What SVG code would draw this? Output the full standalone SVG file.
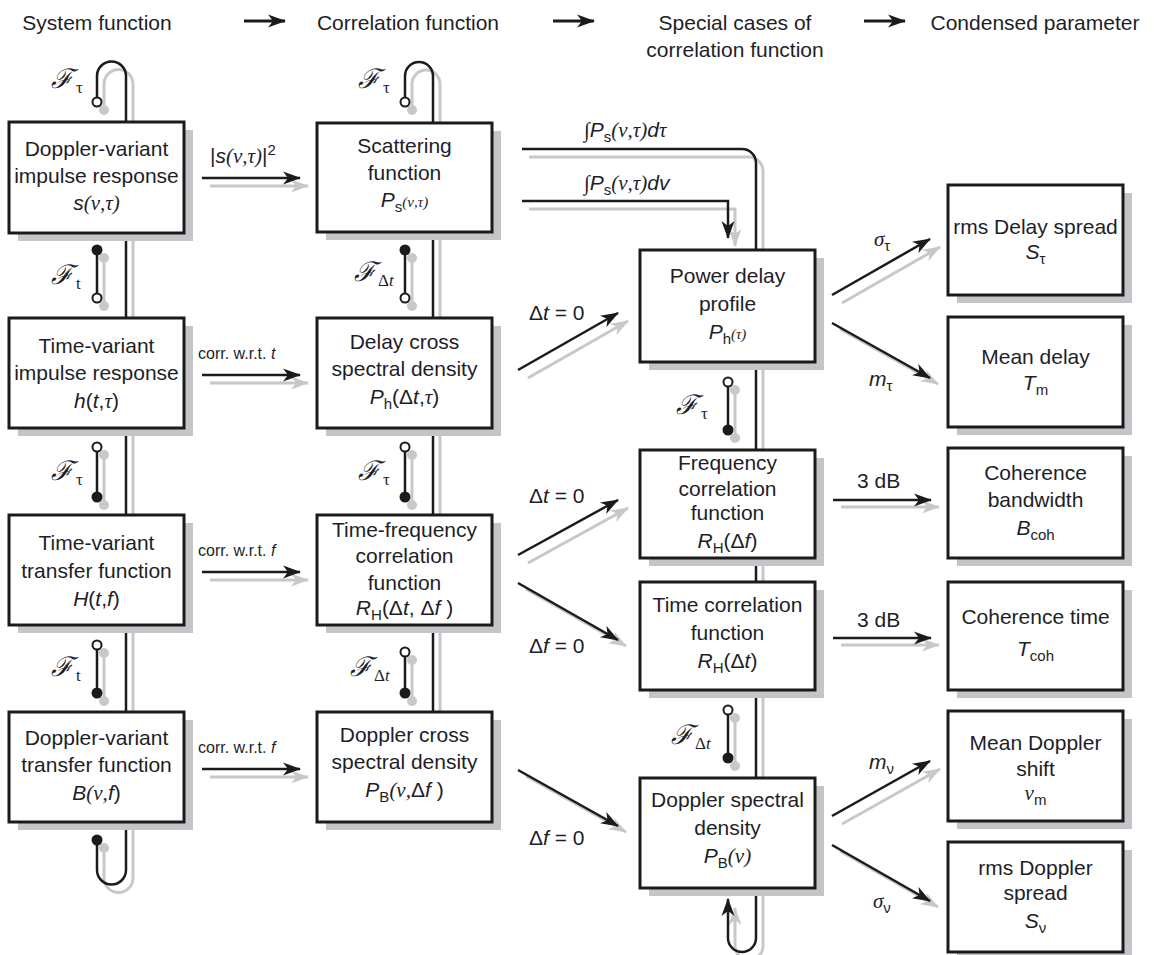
<svg xmlns="http://www.w3.org/2000/svg" width="1154" height="955" viewBox="0 0 1154 955">
<defs>
<style>
.box{fill:#fff;stroke:#1b1b1b;stroke-width:3}
.shd{fill:#c5c5c9}
.t{font-family:"Liberation Sans",Arial,sans-serif;font-size:21px;fill:#1e1e28;text-anchor:middle}
.lbl{font-family:"Liberation Sans",Arial,sans-serif;font-size:21px;fill:#1e1e28}
.sm{font-size:16px}
.i{font-style:italic}
.g{font-family:"Liberation Serif","Times New Roman",serif;font-style:italic}
.sub{font-size:15px}
.ln{stroke:#1b1b1b;stroke-width:2.5;fill:none}
.gl{stroke:#c8c8cc;stroke-width:3;fill:none}
.oc{fill:#fff;stroke:#1b1b1b;stroke-width:2}
.fc{fill:#1b1b1b}
.gc{fill:#c8c8cc}
.F{font-family:"DejaVu Serif",serif;font-style:italic;font-size:27px;fill:#1e1e28}
.Fs{font-family:"Liberation Serif",serif;font-style:normal;font-size:17px}
</style>
<marker id="ah" viewBox="0 0 18 14" refX="17" refY="7" markerWidth="18" markerHeight="14" orient="auto" markerUnits="userSpaceOnUse"><path d="M0,0.5 L18,7 L0,13.5 L5,7 z" fill="#1b1b1b"/></marker>
<marker id="ahg" viewBox="0 0 18 14" refX="17" refY="7" markerWidth="18" markerHeight="14" orient="auto" markerUnits="userSpaceOnUse"><path d="M0,0.5 L18,7 L0,13.5 L5,7 z" fill="#c8c8cc"/></marker>
</defs>

<!-- header -->
<g id="header">
<text class="t" x="97" y="30">System function</text>
<text class="t" x="408" y="30">Correlation function</text>
<text class="t" x="735" y="30">Special cases of</text>
<text class="t" x="735" y="57">correlation function</text>
<text class="t" x="1035" y="30">Condensed parameter</text>
<line x1="244" y1="21" x2="285" y2="21" stroke="#1b1b1b" stroke-width="3.2" marker-end="url(#ah)"/>
<line x1="553" y1="21" x2="594" y2="21" stroke="#1b1b1b" stroke-width="3.2" marker-end="url(#ah)"/>
<line x1="864" y1="21" x2="905" y2="21" stroke="#1b1b1b" stroke-width="3.2" marker-end="url(#ah)"/>
</g>

<!-- connectors -->
<g id="connectors">
<g transform="translate(7,8)">
<path class="gl" d="M97,97.5 V76 A14.5,14.5 0 0 1 126,76 V870 A14.5,14.5 0 0 1 97,870 V845"/>
<path class="gl" d="M405,97.5 V76 A14,14 0 0 1 433,76 V760"/>
<path class="gl" d="M522,149 H742 A14,14 0 0 1 756,163 V938 A14,14 0 0 1 728,938 V900" marker-end="url(#ahg)"/>
<path class="gl" d="M522,201 H728 V238" marker-end="url(#ahg)"/>
<line class="gl" x1="97" y1="250" x2="97" y2="298"/>
<line class="gl" x1="97" y1="447" x2="97" y2="497"/>
<line class="gl" x1="97" y1="645" x2="97" y2="693"/>
<line class="gl" x1="405" y1="250" x2="405" y2="298"/>
<line class="gl" x1="405" y1="447" x2="405" y2="497"/>
<line class="gl" x1="405" y1="652" x2="405" y2="693"/>
<line class="gl" x1="728" y1="382" x2="728" y2="430"/>
<line class="gl" x1="728" y1="710" x2="728" y2="758"/>
<g class="gc">
<circle cx="97" cy="102" r="5"/><circle cx="97" cy="250" r="5"/><circle cx="97" cy="298" r="5"/><circle cx="97" cy="447" r="5"/><circle cx="97" cy="497" r="5"/><circle cx="97" cy="645" r="5"/><circle cx="97" cy="693" r="5"/><circle cx="97" cy="840" r="5"/>
<circle cx="405" cy="102" r="5"/><circle cx="405" cy="250" r="5"/><circle cx="405" cy="298" r="5"/><circle cx="405" cy="447" r="5"/><circle cx="405" cy="497" r="5"/><circle cx="405" cy="652" r="5"/><circle cx="405" cy="693" r="5"/>
<circle cx="728" cy="382" r="5"/><circle cx="728" cy="430" r="5"/><circle cx="728" cy="710" r="5"/><circle cx="728" cy="758" r="5"/>
</g>
</g>
<path class="ln" d="M97,97.5 V76 A14.5,14.5 0 0 1 126,76 V870 A14.5,14.5 0 0 1 97,870 V845"/>
<path class="ln" d="M405,97.5 V76 A14,14 0 0 1 433,76 V760"/>
<path class="ln" d="M522,149 H742 A14,14 0 0 1 756,163 V938 A14,14 0 0 1 728,938 V899" marker-end="url(#ah)"/>
<path class="ln" d="M522,201 H728 V238" marker-end="url(#ah)"/>
<line class="ln" x1="97" y1="250" x2="97" y2="293"/>
<line class="ln" x1="97" y1="452" x2="97" y2="497"/>
<line class="ln" x1="97" y1="650" x2="97" y2="693"/>
<line class="ln" x1="405" y1="250" x2="405" y2="293"/>
<line class="ln" x1="405" y1="452" x2="405" y2="497"/>
<line class="ln" x1="405" y1="657" x2="405" y2="693"/>
<line class="ln" x1="728" y1="387" x2="728" y2="430"/>
<line class="ln" x1="728" y1="715" x2="728" y2="758"/>
<circle class="oc" cx="97" cy="102" r="4.5"/><circle class="fc" cx="97" cy="250" r="5.5"/><circle class="oc" cx="97" cy="298" r="4.5"/><circle class="oc" cx="97" cy="447" r="4.5"/><circle class="fc" cx="97" cy="497" r="5.5"/><circle class="oc" cx="97" cy="645" r="4.5"/><circle class="fc" cx="97" cy="693" r="5.5"/><circle class="fc" cx="97" cy="840" r="5.5"/>
<circle class="oc" cx="405" cy="102" r="4.5"/><circle class="fc" cx="405" cy="250" r="5.5"/><circle class="oc" cx="405" cy="298" r="4.5"/><circle class="oc" cx="405" cy="447" r="4.5"/><circle class="fc" cx="405" cy="497" r="5.5"/><circle class="oc" cx="405" cy="652" r="4.5"/><circle class="fc" cx="405" cy="693" r="5.5"/>
<circle class="oc" cx="728" cy="382" r="4.5"/><circle class="fc" cx="728" cy="430" r="5.5"/><circle class="oc" cx="728" cy="710" r="4.5"/><circle class="fc" cx="728" cy="758" r="5.5"/>

<g>
<line class="gl" x1="210" y1="186" x2="308" y2="186" marker-end="url(#ahg)"/>
<line class="ln" x1="202" y1="178" x2="300" y2="178" marker-end="url(#ah)"/>
<line class="gl" x1="210" y1="383" x2="308" y2="383" marker-end="url(#ahg)"/>
<line class="ln" x1="202" y1="375" x2="300" y2="375" marker-end="url(#ah)"/>
<line class="gl" x1="210" y1="580" x2="308" y2="580" marker-end="url(#ahg)"/>
<line class="ln" x1="202" y1="572" x2="300" y2="572" marker-end="url(#ah)"/>
<line class="gl" x1="210" y1="777" x2="308" y2="777" marker-end="url(#ahg)"/>
<line class="ln" x1="202" y1="769" x2="300" y2="769" marker-end="url(#ah)"/>
</g>
<g>
<line class="gl" x1="528" y1="378" x2="628" y2="321" marker-end="url(#ahg)"/>
<line class="ln" x1="518" y1="370" x2="618" y2="313" marker-end="url(#ah)"/>
<line class="gl" x1="528" y1="563" x2="628" y2="508" marker-end="url(#ahg)"/>
<line class="ln" x1="518" y1="555" x2="618" y2="500" marker-end="url(#ah)"/>
<line class="gl" x1="526" y1="589" x2="626" y2="646" marker-end="url(#ahg)"/>
<line class="ln" x1="518" y1="583" x2="618" y2="640" marker-end="url(#ah)"/>
<line class="gl" x1="526" y1="776" x2="626" y2="832" marker-end="url(#ahg)"/>
<line class="ln" x1="518" y1="770" x2="618" y2="826" marker-end="url(#ah)"/>
</g>
<g>
<line class="gl" x1="842" y1="303" x2="940" y2="247" marker-end="url(#ahg)"/>
<line class="ln" x1="832" y1="295" x2="930" y2="239" marker-end="url(#ah)"/>
<line class="gl" x1="840" y1="329" x2="938" y2="384" marker-end="url(#ahg)"/>
<line class="ln" x1="832" y1="323" x2="930" y2="378" marker-end="url(#ah)"/>
<line class="gl" x1="841" y1="507" x2="939" y2="507" marker-end="url(#ahg)"/>
<line class="ln" x1="833" y1="500" x2="931" y2="500" marker-end="url(#ah)"/>
<line class="gl" x1="841" y1="645" x2="939" y2="645" marker-end="url(#ahg)"/>
<line class="ln" x1="833" y1="638" x2="931" y2="638" marker-end="url(#ah)"/>
<line class="gl" x1="842" y1="824" x2="940" y2="769" marker-end="url(#ahg)"/>
<line class="ln" x1="832" y1="816" x2="930" y2="761" marker-end="url(#ah)"/>
<line class="gl" x1="840" y1="851" x2="938" y2="907" marker-end="url(#ahg)"/>
<line class="ln" x1="832" y1="845" x2="930" y2="901" marker-end="url(#ah)"/>
</g>
<g class="lbl">
<text x="210" y="163"><tspan>|</tspan><tspan class="i">s</tspan><tspan class="g">(ν,τ)</tspan><tspan>|</tspan><tspan font-size="15" dy="-8">2</tspan></text>
<text class="sm" x="198" y="359">corr. w.r.t. <tspan class="i">t</tspan></text>
<text class="sm" x="198" y="556">corr. w.r.t. <tspan class="i">f</tspan></text>
<text class="sm" x="198" y="753">corr. w.r.t. <tspan class="i">f</tspan></text>
<text x="584" y="137"><tspan class="g">∫</tspan><tspan class="i">P</tspan><tspan class="sub" dy="5">s</tspan><tspan class="g" dy="-5">(ν,τ)</tspan><tspan class="i">d</tspan><tspan class="g">τ</tspan></text>
<text x="584" y="190"><tspan class="g">∫</tspan><tspan class="i">P</tspan><tspan class="sub" dy="5">s</tspan><tspan class="g" dy="-5">(ν,τ)</tspan><tspan class="i">dv</tspan></text>
<text x="529" y="320">Δ<tspan class="i">t</tspan> = 0</text>
<text x="529" y="503">Δ<tspan class="i">t</tspan> = 0</text>
<text x="529" y="653">Δ<tspan class="i">f</tspan> = 0</text>
<text x="529" y="845">Δ<tspan class="i">f</tspan> = 0</text>
<text x="874" y="246"><tspan class="g">σ</tspan><tspan class="sub" dy="5">τ</tspan></text>
<text x="869" y="386"><tspan class="i">m</tspan><tspan class="sub" dy="5">τ</tspan></text>
<text x="857" y="488">3 dB</text>
<text x="857" y="627">3 dB</text>
<text x="869" y="769"><tspan class="i">m</tspan><tspan class="sub" dy="5">ν</tspan></text>
<text x="873" y="908"><tspan class="g">σ</tspan><tspan class="sub" dy="5">ν</tspan></text>
</g>
<g>
<text class="F" x="51" y="88">ℱ<tspan class="Fs" dx="3" dy="5">τ</tspan></text>
<text class="F" x="51" y="284">ℱ<tspan class="Fs" dx="3" dy="5">t</tspan></text>
<text class="F" x="51" y="480">ℱ<tspan class="Fs" dx="3" dy="5">τ</tspan></text>
<text class="F" x="51" y="676">ℱ<tspan class="Fs" dx="3" dy="5">t</tspan></text>
<text class="F" x="358" y="88">ℱ<tspan class="Fs" dx="3" dy="5">τ</tspan></text>
<text class="F" x="354" y="281">ℱ<tspan class="Fs" dx="2" dy="5">Δ<tspan font-style="italic">t</tspan></tspan></text>
<text class="F" x="358" y="480">ℱ<tspan class="Fs" dx="3" dy="5">τ</tspan></text>
<text class="F" x="350" y="676">ℱ<tspan class="Fs" dx="2" dy="5">Δ<tspan font-style="italic">t</tspan></tspan></text>
<text class="F" x="676" y="414">ℱ<tspan class="Fs" dx="3" dy="5">τ</tspan></text>
<text class="F" x="671" y="744">ℱ<tspan class="Fs" dx="2" dy="5">Δ<tspan font-style="italic">t</tspan></tspan></text>
</g>
</g>

<g id="n-doppler-variant-impulse">
<rect class="shd" x="18" y="130" width="175" height="111"/><rect class="box" x="9" y="122" width="175" height="111"/>
<text class="t" x="96.5" y="156">Doppler-variant</text>
<text class="t" x="96.5" y="183">impulse response</text>
<text class="t" x="96.5" y="210"><tspan class="i">s</tspan><tspan class="g">(ν,τ)</tspan></text>
</g>
<g id="n-time-variant-impulse">
<rect class="shd" x="18" y="326" width="175" height="110"/><rect class="box" x="9" y="318" width="175" height="110"/>
<text class="t" x="96.5" y="353">Time-variant</text>
<text class="t" x="96.5" y="380">impulse response</text>
<text class="t" x="96.5" y="408"><tspan class="i">h</tspan>(<tspan class="i">t</tspan>,<tspan class="g">τ</tspan>)</text>
</g>
<g id="n-time-variant-transfer">
<rect class="shd" x="18" y="523" width="175" height="110"/><rect class="box" x="9" y="515" width="175" height="110"/>
<text class="t" x="96.5" y="550">Time-variant</text>
<text class="t" x="96.5" y="578">transfer function</text>
<text class="t" x="96.5" y="606"><tspan class="i">H</tspan>(<tspan class="i">t</tspan>,<tspan class="i">f</tspan>)</text>
</g>
<g id="n-doppler-variant-transfer">
<rect class="shd" x="18" y="720" width="175" height="110"/><rect class="box" x="9" y="712" width="175" height="110"/>
<text class="t" x="96.5" y="745">Doppler-variant</text>
<text class="t" x="96.5" y="772">transfer function</text>
<text class="t" x="96.5" y="800"><tspan class="i">B</tspan><tspan class="g">(ν,</tspan><tspan class="i">f</tspan>)</text>
</g>

<g id="n-scattering">
<rect class="shd" x="326" y="131" width="175" height="109"/><rect class="box" x="317" y="123" width="175" height="109"/>
<text class="t" x="404.5" y="153">Scattering</text>
<text class="t" x="404.5" y="180">function</text>
<text class="t" x="404.5" y="207"><tspan class="i">P</tspan><tspan class="sub" dy="5">s</tspan><tspan class="g sub" dy="-5">(ν,τ)</tspan></text>
</g>
<g id="n-delay-cross">
<rect class="shd" x="326" y="326" width="175" height="110"/><rect class="box" x="317" y="318" width="175" height="110"/>
<text class="t" x="404.5" y="349">Delay cross</text>
<text class="t" x="404.5" y="376">spectral density</text>
<text class="t" x="404.5" y="404"><tspan class="i">P</tspan><tspan class="sub" dy="5">h</tspan><tspan dy="-5">(Δ</tspan><tspan class="i">t</tspan>,<tspan class="g">τ</tspan>)</text>
</g>
<g id="n-time-frequency">
<rect class="shd" x="326" y="523" width="175" height="110"/><rect class="box" x="317" y="515" width="175" height="110"/>
<text class="t" x="404.5" y="537">Time-frequency</text>
<text class="t" x="404.5" y="563">correlation</text>
<text class="t" x="404.5" y="590">function</text>
<text class="t" x="404.5" y="615"><tspan class="i">R</tspan><tspan class="sub" dy="5">H</tspan><tspan dy="-5">(Δ</tspan><tspan class="i">t</tspan>, Δ<tspan class="i">f</tspan> )</text>
</g>
<g id="n-doppler-cross">
<rect class="shd" x="326" y="720" width="175" height="110"/><rect class="box" x="317" y="712" width="175" height="110"/>
<text class="t" x="404.5" y="742">Doppler cross</text>
<text class="t" x="404.5" y="769">spectral density</text>
<text class="t" x="404.5" y="797"><tspan class="i">P</tspan><tspan class="sub" dy="5">B</tspan><tspan class="g" dy="-5">(ν,</tspan>Δ<tspan class="i">f</tspan> )</text>
</g>

<g id="n-power-delay">
<rect class="shd" x="649" y="258" width="175" height="112"/><rect class="box" x="640" y="250" width="175" height="112"/>
<text class="t" x="727.5" y="283">Power delay</text>
<text class="t" x="727.5" y="311">profile</text>
<text class="t" x="727.5" y="339"><tspan class="i">P</tspan><tspan class="sub" dy="5">h</tspan><tspan class="g sub" dy="-5">(τ)</tspan></text>
</g>
<g id="n-frequency-corr">
<rect class="shd" x="649" y="458" width="175" height="108"/><rect class="box" x="640" y="450" width="175" height="108"/>
<text class="t" x="727.5" y="470">Frequency</text>
<text class="t" x="727.5" y="496">correlation</text>
<text class="t" x="727.5" y="520">function</text>
<text class="t" x="727.5" y="548"><tspan class="i">R</tspan><tspan class="sub" dy="5">H</tspan><tspan dy="-5">(Δ</tspan><tspan class="i">f</tspan>)</text>
</g>
<g id="n-time-corr">
<rect class="shd" x="649" y="590" width="175" height="108"/><rect class="box" x="640" y="582" width="175" height="108"/>
<text class="t" x="727.5" y="612">Time correlation</text>
<text class="t" x="727.5" y="640">function</text>
<text class="t" x="727.5" y="668"><tspan class="i">R</tspan><tspan class="sub" dy="5">H</tspan><tspan dy="-5">(Δ</tspan><tspan class="i">t</tspan>)</text>
</g>
<g id="n-doppler-spectral">
<rect class="shd" x="649" y="786" width="175" height="110"/><rect class="box" x="640" y="778" width="175" height="110"/>
<text class="t" x="727.5" y="807">Doppler spectral</text>
<text class="t" x="727.5" y="835">density</text>
<text class="t" x="727.5" y="863"><tspan class="i">P</tspan><tspan class="sub" dy="5">B</tspan><tspan class="g" dy="-5">(ν)</tspan></text>
</g>

<g id="n-rms-delay">
<rect class="shd" x="957" y="193" width="175" height="110"/><rect class="box" x="948" y="185" width="175" height="110"/>
<text class="t" x="1035.5" y="234">rms Delay spread</text>
<text class="t" x="1035.5" y="259"><tspan class="i">S</tspan><tspan class="sub" dy="5">τ</tspan></text>
</g>
<g id="n-mean-delay">
<rect class="shd" x="957" y="325" width="175" height="110"/><rect class="box" x="948" y="317" width="175" height="110"/>
<text class="t" x="1035.5" y="364">Mean delay</text>
<text class="t" x="1035.5" y="390"><tspan class="i">T</tspan><tspan class="sub" dy="5">m</tspan></text>
</g>
<g id="n-coherence-bandwidth">
<rect class="shd" x="957" y="456" width="175" height="110"/><rect class="box" x="948" y="448" width="175" height="110"/>
<text class="t" x="1035.5" y="480">Coherence</text>
<text class="t" x="1035.5" y="507">bandwidth</text>
<text class="t" x="1035.5" y="535"><tspan class="i">B</tspan><tspan class="sub" dy="5">coh</tspan></text>
</g>
<g id="n-coherence-time">
<rect class="shd" x="957" y="590" width="175" height="108"/><rect class="box" x="948" y="582" width="175" height="108"/>
<text class="t" x="1035.5" y="624">Coherence time</text>
<text class="t" x="1035.5" y="656"><tspan class="i">T</tspan><tspan class="sub" dy="5">coh</tspan></text>
</g>
<g id="n-mean-doppler">
<rect class="shd" x="957" y="719" width="175" height="110"/><rect class="box" x="948" y="711" width="175" height="110"/>
<text class="t" x="1035.5" y="750">Mean Doppler</text>
<text class="t" x="1035.5" y="776">shift</text>
<text class="t" x="1035.5" y="800"><tspan class="g">ν</tspan><tspan class="sub" dy="5">m</tspan></text>
</g>
<g id="n-rms-doppler">
<rect class="shd" x="957" y="850" width="175" height="110"/><rect class="box" x="948" y="842" width="175" height="110"/>
<text class="t" x="1035.5" y="875">rms Doppler</text>
<text class="t" x="1035.5" y="900">spread</text>
<text class="t" x="1035.5" y="928"><tspan class="i">S</tspan><tspan class="sub" dy="5">ν</tspan></text>
</g>
</svg>
